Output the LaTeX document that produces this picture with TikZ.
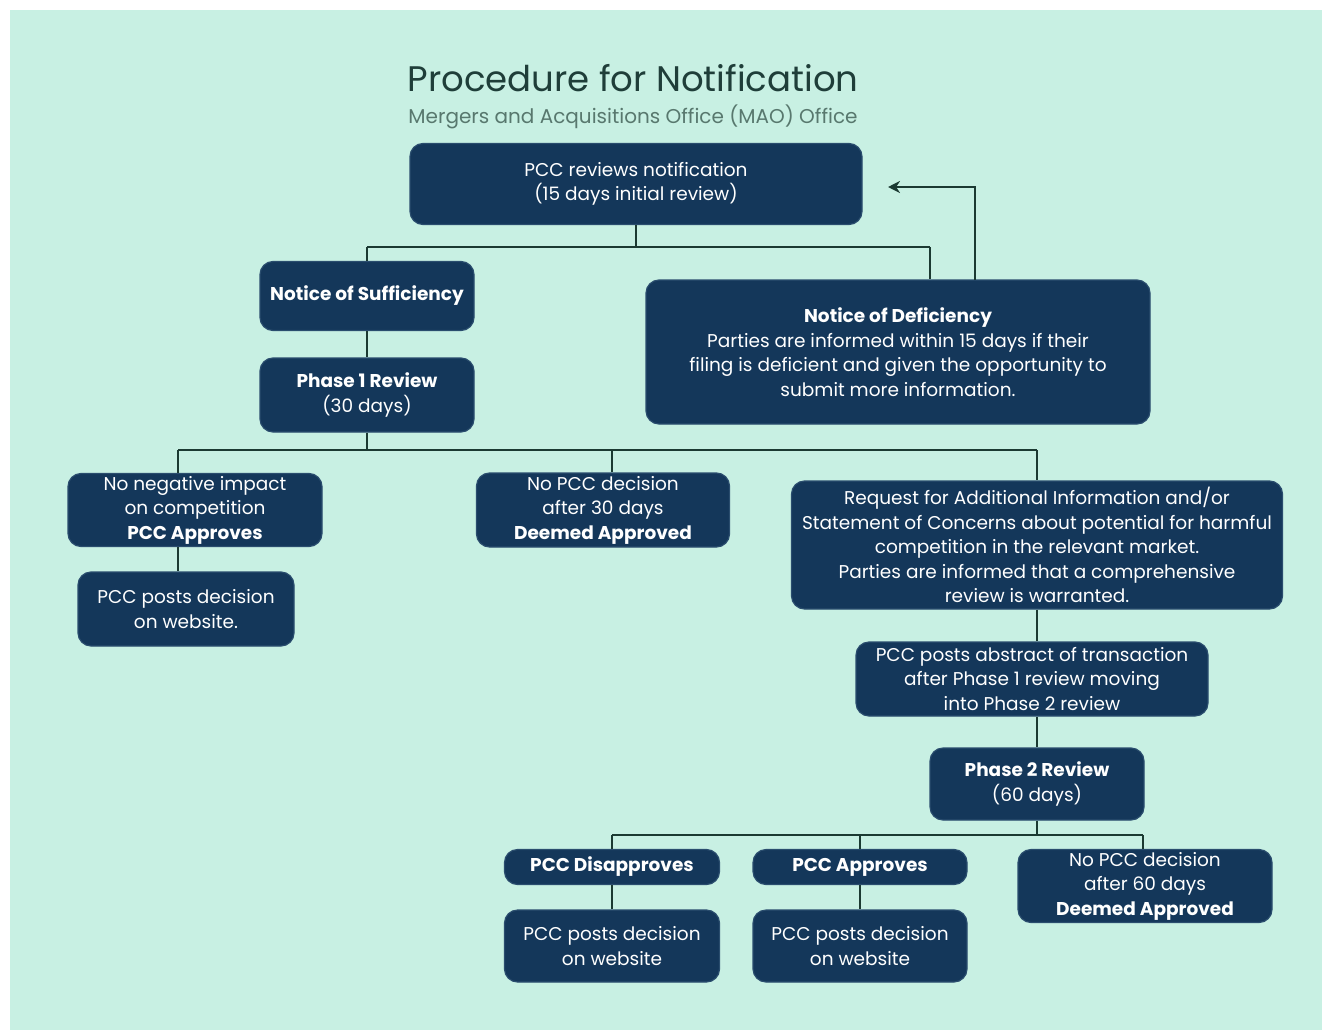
\documentclass[tikz,border=0pt]{standalone}
\usepackage{fontspec}
\setmainfont{Poppins}
\usetikzlibrary{arrows.meta}
\definecolor{mint}{HTML}{C8F0E3}
\definecolor{paleblue}{HTML}{CAE8F6}
\definecolor{navy}{HTML}{14375A}
\definecolor{boxedge}{HTML}{2A4D6E}
\definecolor{linecol}{HTML}{1B3A32}
\definecolor{titlecol}{HTML}{1F3E39}
\definecolor{subcol}{HTML}{58786E}
\newcommand{\nodefont}{\fontsize{18.5}{24.5}\selectfont}
\tikzset{
  box/.style={draw=boxedge, line width=1.2pt, fill=navy, rounded corners=13pt,
    text=white, align=center, font=\nodefont, inner sep=0pt},
  conn/.style={draw=linecol, line width=2.2pt},
}
\begin{document}
\begin{tikzpicture}[x=1pt,y=-1pt]
\useasboundingbox (0,0) rectangle (1327,1030);
\fill[white] (0,0) rectangle (1327,1030);
\fill[mint] (10,10) rectangle (1322,1030);
% title
\node[text=titlecol, font=\fontsize{35.5}{40}\selectfont] (title) at (633,78) {Procedure for Notification};
\node[text=subcol, font=\fontsize{20}{22}\selectfont] (subtitle) at (633,117) {Mergers and Acquisitions Office (MAO) Office};
% nodes
\node[box, minimum width=452, minimum height=81] (top) at (636,184) {PCC reviews notification\\(15 days initial review)};
\node[box, minimum width=214, minimum height=69] (nos) at (367,296) {\textbf{Notice of Sufficiency}};
\node[box, minimum width=214, minimum height=74] (p1) at (367,395) {\textbf{Phase 1 Review}\\(30 days)};
\node[box, minimum width=504, minimum height=144] (nod) at (898,352) {\textbf{Notice of Deficiency}\\Parties are informed within 15 days if their\\filing is deficient and given the opportunity to\\submit more information.};
\node[box, minimum width=254, minimum height=73] (neg) at (195,510) {No negative impact\\on competition\\\textbf{PCC Approves}};
\node[box, minimum width=216, minimum height=74] (negpost) at (186,609) {PCC posts decision\\on website.};
\node[box, minimum width=253, minimum height=74] (nodec1) at (603,510) {No PCC decision\\after 30 days\\\textbf{Deemed Approved}};
\node[box, minimum width=491, minimum height=128] (rfi) at (1037,545) {Request for Additional Information and/or\\Statement of Concerns about potential for harmful\\competition in the relevant market.\\Parties are informed that a comprehensive\\review is warranted.};
\node[box, minimum width=352, minimum height=74] (abs) at (1032,679) {PCC posts abstract of transaction\\after Phase 1 review moving\\into Phase 2 review};
\node[box, minimum width=214, minimum height=72] (p2) at (1037,784) {\textbf{Phase 2 Review}\\(60 days)};
\node[box, minimum width=215, minimum height=35] (dis) at (612,867) {\textbf{PCC Disapproves}};
\node[box, minimum width=214, minimum height=35] (app) at (860,867) {\textbf{PCC Approves}};
\node[box, minimum width=254, minimum height=73] (nodec2) at (1145,886) {No PCC decision\\after 60 days\\\textbf{Deemed Approved}};
\node[box, minimum width=215, minimum height=72] (dispost) at (612,946) {PCC posts decision\\on website};
\node[box, minimum width=214, minimum height=72] (apppost) at (860,946) {PCC posts decision\\on website};
% bar coordinates
\coordinate (b1L) at (367,247);
\coordinate (b1R) at (930,247);
\coordinate (b2L) at (178,450);
\coordinate (b2M) at (612,450);
\coordinate (b2R) at (1037,450);
\coordinate (b3L) at (612,835);
\coordinate (b3M) at (860,835);
\coordinate (b3R) at (1143,835);
\coordinate (fbStart) at (975,280);
\coordinate (fbTip) at (888,187);
% connectors
\draw[conn] (top.south) -- (top.south |- b1L);
\draw[conn] (b1L) -- (b1R);
\draw[conn] (b1L) -- (nos.north);
\draw[conn] (b1R) -- (b1R |- nod.north);
\draw[conn, -{Stealth[length=12pt,width=12pt]}] (fbStart) |- (fbTip);
\draw[conn] (nos.south) -- (p1.north);
\draw[conn] (p1.south) -- (p1.south |- b2L);
\draw[conn] (b2L) -- (b2R);
\draw[conn] (b2L) -- (b2L |- neg.north);
\draw[conn] (b2M) -- (b2M |- nodec1.north);
\draw[conn] (b2R) -- (rfi.north);
\draw[conn] (b2L |- neg.south) -- (b2L |- negpost.north);
\draw[conn] (rfi.south) -- (rfi.south |- abs.north);
\draw[conn] (rfi.south |- abs.south) -- (p2.north);
\draw[conn] (p2.south) -- (p2.south |- b3L);
\draw[conn] (b3L) -- (b3R);
\draw[conn] (b3L) -- (dis.north);
\draw[conn] (b3M) -- (app.north);
\draw[conn] (b3R) -- (b3R |- nodec2.north);
\draw[conn] (dis.south) -- (dispost.north);
\draw[conn] (app.south) -- (apppost.north);
\end{tikzpicture}
\end{document}
